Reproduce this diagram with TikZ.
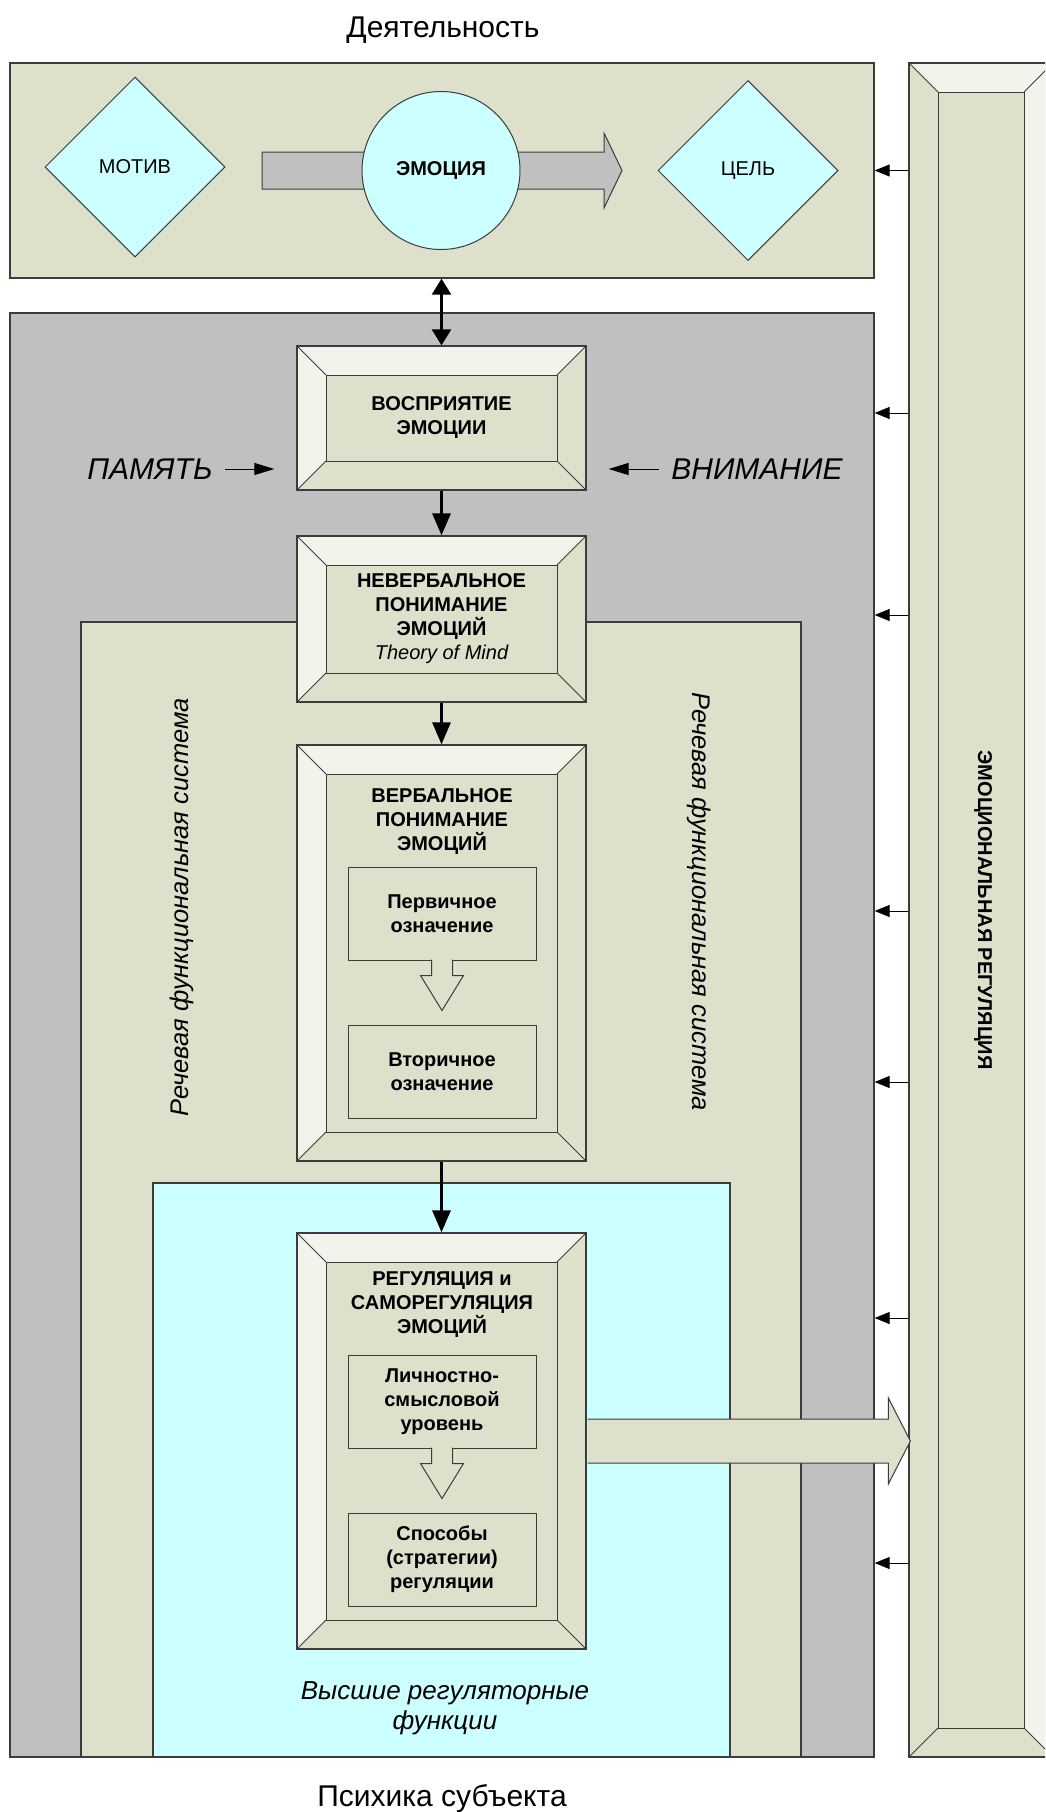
\documentclass[tikz,border=0pt]{standalone}
\usepackage{fontspec}
\setmainfont{Liberation Sans}
\usetikzlibrary{arrows.meta,shapes.geometric,calc}

\definecolor{beige}{RGB}{221,224,203}
\definecolor{lightface}{RGB}{242,243,235}
\definecolor{greyzone}{RGB}{192,192,192}
\definecolor{cyanzone}{RGB}{204,255,255}
\definecolor{edge}{RGB}{60,60,60}

\newcommand{\bevdepth}{29}
\newcommand{\boxfont}{\bfseries\fontsize{20}{24}\selectfont}
\newcommand{\bigfont}{\fontsize{30}{36}\selectfont}
%% грани рамки
\newcommand{\bevelfaces}[1]{%
  \path (path picture bounding box.north west) coordinate (bA)
        (path picture bounding box.north east) coordinate (bB)
        (path picture bounding box.south east) coordinate (bC)
        (path picture bounding box.south west) coordinate (bD);
  \path ($(bA)+(\bevdepth,\bevdepth)$) coordinate (ba)
        ($(bB)+(-\bevdepth,\bevdepth)$) coordinate (bb)
        ($(bC)+(-\bevdepth,-\bevdepth)$) coordinate (bc)
        ($(bD)+(\bevdepth,-\bevdepth)$) coordinate (bd);
  \fill[lightface] (bA) -- (bB) -- (bb) -- (ba) -- cycle;
  \fill[lightface] #1 -- cycle;
  \draw[edge, line width=1pt] (bA) -- (ba) (bB) -- (bb) (bC) -- (bc) (bD) -- (bd);
  \draw[edge, line width=1pt] (ba) rectangle (bc);
}

\tikzset{
  zone/.style={rectangle, draw=edge, line width=1.3pt, inner sep=0pt},
  bevelbox/.style={rectangle, draw=edge, fill=beige, line width=1.3pt, inner sep=0pt,
    minimum width=289, align=center, font=\boxfont,
    path picture={\bevelfaces{(bA) -- (ba) -- (bd) -- (bD)}}},
  bevelcol/.style={rectangle, draw=edge, fill=beige, line width=1.3pt, inner sep=0pt,
    path picture={\bevelfaces{(bB) -- (bC) -- (bc) -- (bb)}}},
  subbox/.style={rectangle, draw=edge, fill=beige, line width=1pt, inner sep=0pt,
    minimum width=188, minimum height=93, align=center, font=\boxfont},
  goalshape/.style={diamond, aspect=1, draw=edge, fill=cyanzone, line width=1pt,
    inner sep=0pt, minimum width=180, minimum height=180,
    font=\fontsize{20}{24}\selectfont},
  mainarrow/.style={line width=3pt, -{Triangle[length=22pt,width=18pt]}},
  dblarrow/.style={line width=2.5pt,
    {Triangle[length=16pt,width=19pt]}-{Triangle[length=16pt,width=19pt]}},
  sidearrow/.style={line width=1pt, -{Triangle[length=15pt,width=12pt]}},
  hollow/.style={draw=edge, line width=1pt, fill=beige},
}

\begin{document}
\begin{tikzpicture}[x=1pt, y=-1pt]
\useasboundingbox (0,0) rectangle (1045,1812);
\clip (0,0) rectangle (1045,1812);
\fill[white] (0,0) rectangle (1045,1812);

%% деятельность
\node[anchor=base, font=\bigfont] (acttitle) at (443,37) {Деятельность};
\node[zone, fill=beige, minimum width=864, minimum height=215] (activity) at (442,170.5) {};
\draw[edge, line width=1pt, fill=greyzone] (262,152) -- (604,152) -- (604,133) -- (622,170.5)
  -- (604,208) -- (604,189) -- (262,189) -- cycle;
\node[goalshape] (motive) at (135,167) {МОТИВ};
\node[circle, draw=edge, fill=cyanzone, line width=1pt, inner sep=0pt, minimum size=158,
  font=\boxfont] (emotion) at (441,170.5) {ЭМОЦИЯ};
\node[goalshape] (goal) at (748,170.5) {ЦЕЛЬ};

%% психика
\node[zone, fill=greyzone, minimum width=864, minimum height=1444] (psyche) at (442,1035) {};
\node[zone, fill=beige, minimum width=720, minimum height=1135] (speech) at (441,1189.5) {};
\node[zone, fill=cyanzone, minimum width=577, minimum height=574] (higher) at (441.5,1470) {};

\node[rotate=90, font=\itshape\fontsize{25.5}{30}\selectfont] (speechleft) at (182,907)
  {Речевая функциональная система};
\node[rotate=-90, font=\itshape\fontsize{25.5}{30}\selectfont] (speechright) at (699,902)
  {Речевая функциональная система};
\node[align=center, font=\itshape\fontsize{26}{30}\selectfont] (higherlabel) at (445,1708)
  {Высшие регуляторные\\функции};
\node[anchor=base, font=\bigfont] (psychetitle) at (442,1806) {Психика субъекта};

%% эмоциональная регуляция
\node[bevelcol, minimum width=144, minimum height=1694] (emoreg) at (981,910) {};
\node[rotate=-90, font=\boxfont] (emoreglabel) at (983,910) {ЭМОЦИОНАЛЬНАЯ РЕГУЛЯЦИЯ};

%% блоки
\node[bevelbox, minimum height=144] (percep) at (441.5,418) {ВОСПРИЯТИЕ\\ЭМОЦИИ};
\node[bevelbox, minimum height=166] (nonverb) at (441.5,619)
  {НЕВЕРБАЛЬНОЕ\\ПОНИМАНИЕ\\ЭМОЦИЙ\\{\mdseries\itshape Theory of Mind}};
\node[bevelbox, minimum height=416] (verb) at (441.5,953) {};
\node[align=center, font=\boxfont] (verbtitle) at (442,821) {ВЕРБАЛЬНОЕ\\ПОНИМАНИЕ\\ЭМОЦИЙ};
\node[subbox] (prim) at (442,913.5) {Первичное\\означение};
\node[subbox] (sec) at (442,1071.5) {Вторичное\\означение};
\draw[hollow] ($(prim.south)+(-10.5,-1)$) -- ++(0,16) -- ++(-11,0) -- ($(prim.south)+(0,50)$)
  -- ++(21.5,-35) -- ++(-11,0) -- ++(0,-16);

\node[bevelbox, minimum height=416] (regul) at (441.5,1441) {};
\node[align=center, font=\boxfont] (regultitle) at (442,1305)
  {РЕГУЛЯЦИЯ и\\САМОРЕГУЛЯЦИЯ\\ЭМОЦИЙ};
\node[subbox] (pers) at (442,1401.5) {Личностно-\\смысловой\\уровень};
\node[subbox] (ways) at (442,1559.5) {Способы\\(стратегии)\\регуляции};
\draw[hollow] ($(pers.south)+(-10.5,-1)$) -- ++(0,16) -- ++(-11,0) -- ($(pers.south)+(0,50)$)
  -- ++(21.5,-35) -- ++(-11,0) -- ++(0,-16);

%% стрелки
\draw[dblarrow] (percep.north |- activity.south) -- (percep.north);
\draw[mainarrow] (percep) -- (nonverb);
\draw[mainarrow] (nonverb) -- (verb);
\draw[mainarrow] (verb) -- (regul);

\draw[hollow] ($(regul.east)+(1,-22)$) -- ($(regul.east -| emoreg.west)+(-20,-22)$) -- ++(0,-21)
  -- ($(regul.east -| emoreg.west)+(2,0)$) -- ($(regul.east -| emoreg.west)+(-20,43)$)
  -- ++(0,-21) -- ($(regul.east)+(1,22)$);

\draw[sidearrow] (emoreg.west |- activity.east) -- (activity.east);
\foreach \yy in {413,615,911,1082,1318,1563}
  \draw[sidearrow] (emoreg.west |- 0,\yy) -- (psyche.east |- 0,\yy);

\node[inner sep=0pt, font=\itshape\bigfont] (memory) at (150,469) {ПАМЯТЬ};
\node[inner sep=0pt, font=\itshape\bigfont] (attention) at (757,469) {ВНИМАНИЕ};
\draw[line width=1pt, -{Triangle[length=20pt,width=12pt]}, shorten <=12pt, shorten >=22pt]
  (memory.east) -- (memory.east -| percep.west);
\draw[line width=1pt, -{Triangle[length=20pt,width=12pt]}, shorten <=12pt, shorten >=22pt]
  (attention.west) -- (attention.west -| percep.east);
\end{tikzpicture}
\end{document}
